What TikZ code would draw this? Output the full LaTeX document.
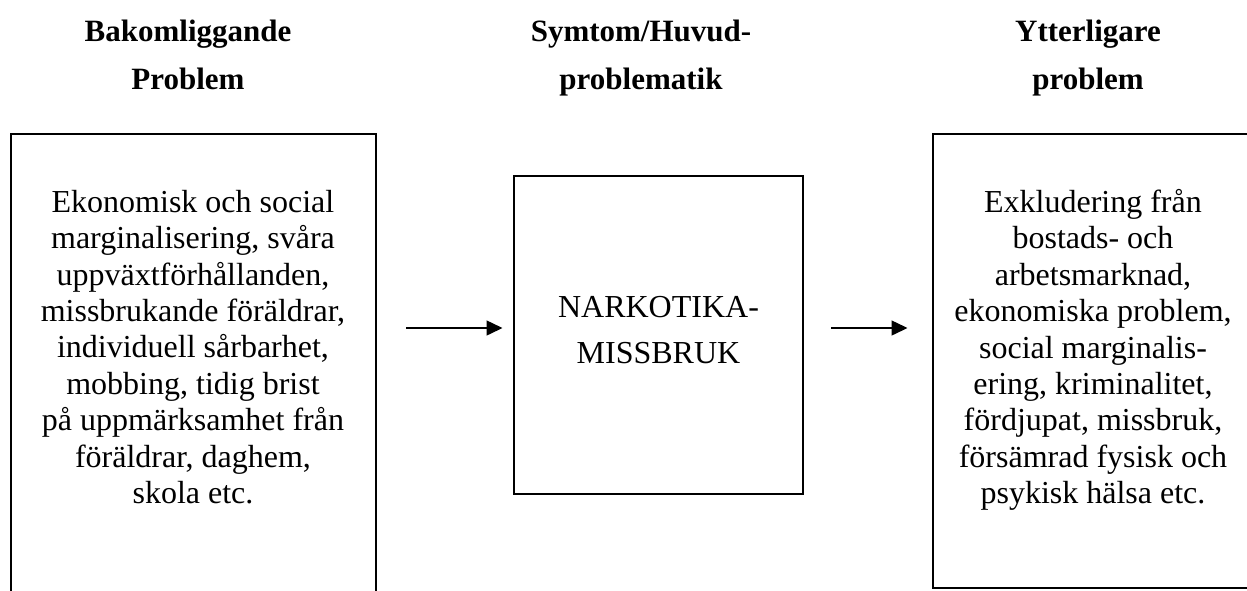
\documentclass[tikz,border=0pt]{standalone}
\usepackage{fontspec}
\setmainfont{Liberation Serif}
\usetikzlibrary{arrows.meta}
\tikzset{
  hd/.style={align=center,inner sep=0pt,font=\bfseries\fontsize{31pt}{48pt}\selectfont},
  txt/.style={align=center,inner sep=0pt,font=\fontsize{32pt}{36.4pt}\selectfont},
  frame/.style={line width=1.6pt},
  arr/.style={line width=1.5pt,-{Triangle[length=16pt,width=15pt]}}
}
\begin{document}
\begin{tikzpicture}[x=1pt,y=-1pt]
\useasboundingbox (0,0) rectangle (1247,590);
% headings
\node[hd] (h1) at (188,54.5) {Bakomliggande\\Problem};
\node[hd] (h2) at (641,58) {Symtom/Huvud-\\problematik};
\node[hd] (h3) at (1088,58) {Ytterligare\\problem};
% frames
\node[inner sep=0pt,minimum width=365pt,minimum height=480pt] (lb) at (193.5,374) {};
\draw[frame] (lb.south west) -- (lb.north west) -- (lb.north east) -- (lb.south east);
\node[draw,frame,inner sep=0pt,minimum width=289pt,minimum height=318pt] (mid) at (658.5,335) {};
\node[inner sep=0pt,minimum width=320pt,minimum height=454pt] (rb) at (1093,361) {};
\draw[frame] (rb.south west) rectangle (rb.north east);
% texts
\node[txt] (t1) at (193,347) {Ekonomisk och social\\marginalisering, svåra\\uppväxtförhållanden,\\missbrukande föräldrar,\\individuell sårbarhet,\\mobbing, tidig brist\\på uppmärksamhet från\\föräldrar, daghem,\\skola etc.};
\node[txt,font=\fontsize{32pt}{46pt}\selectfont] (t2) at (658.5,330) {NARKOTIKA-\\MISSBRUK};
\node[txt] (t3) at (1093,350) {Exkludering från\\bostads- och\\arbetsmarknad,\\ekonomiska problem,\\social marginalis-\\ering, kriminalitet,\\fördjupat, missbruk,\\försämrad fysisk och\\psykisk hälsa etc.};
% arrows
\coordinate (a1s) at (406,328);
\coordinate (a1e) at (502.5,328);
\coordinate (a2s) at (831,328);
\coordinate (a2e) at (907.5,328);
\draw[arr] (a1s) -- (a1e);
\draw[arr] (a2s) -- (a2e);
\end{tikzpicture}
\end{document}
